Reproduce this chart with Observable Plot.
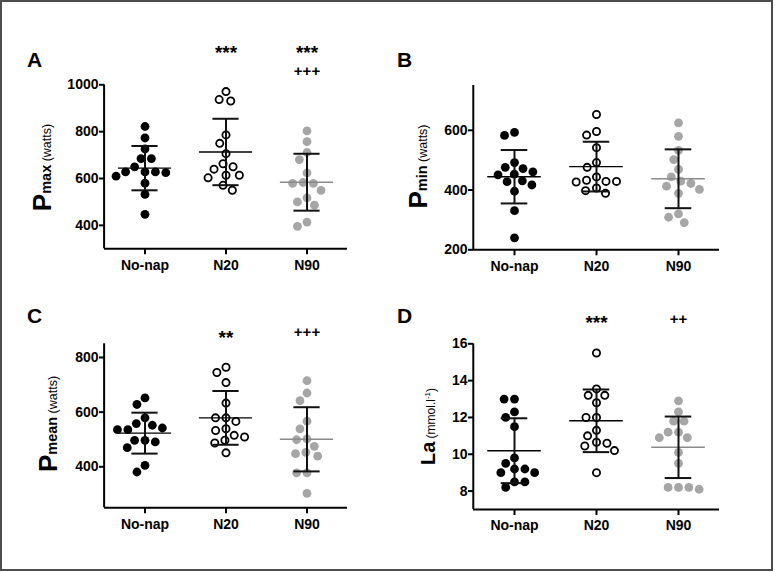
<!DOCTYPE html>
<html>
<head>
<meta charset="utf-8">
<script src="https://cdn.jsdelivr.net/npm/d3@7"></script>
<script src="https://cdn.jsdelivr.net/npm/@observablehq/plot@0.6"></script>
<style>
  html, body { margin: 0; padding: 0; background: #fff; }
  #root { position: relative; width: 775px; height: 572px; overflow: hidden; background: #fff; }
  #border { position: absolute; left: 0; top: 0; width: 773px; height: 571px; box-sizing: border-box; border: 2px solid #4d4d4d; }
  .panel { position: absolute; }
  #overlay { position: absolute; left: 0; top: 0; pointer-events: none; }
</style>
</head>
<body>
<div id="root"><div id="border"></div></div>
<script>
// ---------- data ----------
const groups = ["No-nap", "N20", "N90"];

// A: Pmax (watts)
const pmaxNoNap = [822, 773, 726, 685, 685, 650, 628, 628, 628, 625, 610, 580, 532, 447];
const pmaxN20   = [971, 937, 931, 786, 750, 706, 663, 650, 640, 614, 614, 603, 571, 550];
const pmaxN90   = [803, 757, 711, 681, 624, 583, 579, 579, 549, 517, 500, 486, 414, 396];
const pmaxTicks = [400, 600, 800, 1000];

// B: Pmin (watts)
const pminNoNap = [593, 583, 492, 476, 472, 461, 453, 451, 431, 428, 417, 396, 331, 240];
const pminN20   = [653, 596, 584, 542, 492, 476, 444, 433, 429, 429, 427, 407, 398, 389];
const pminN90   = [625, 580, 533, 502, 469, 444, 430, 422, 413, 402, 389, 320, 309, 291];
const pminTicks = [200, 400, 600];

// C: Pmean (watts)
const pmeanNoNap = [652, 628, 579, 558, 552, 542, 536, 536, 497, 497, 491, 470, 405, 381];
const pmeanN20   = [764, 745, 708, 633, 579, 579, 566, 539, 533, 515, 509, 497, 487, 451];
const pmeanN90   = [715, 670, 642, 567, 539, 502, 499, 475, 453, 448, 439, 378, 378, 303];
const pmeanTicks = [400, 600, 800];

// D: La (mmol.l-1)
const laNoNap = [13.0, 13.0, 12.3, 12.0, 11.5, 9.8, 9.5, 9.2, 9.2, 9.0, 9.0, 8.5, 8.5, 8.2];
const laN20   = [15.5, 13.55, 13.2, 13.2, 12.8, 12.0, 12.0, 11.3, 11.0, 10.65, 10.6, 10.45, 10.2, 9.0];
const laN90   = [12.9, 12.3, 11.8, 11.8, 11.2, 11.2, 10.9, 10.9, 10.1, 9.5, 8.2, 8.2, 8.2, 8.1];
const laTicks = [8, 10, 12, 14, 16];

// significance marks
const starsA = [{group: "N20", label: "***"}, {group: "N90", label: "***"}];
const plusA  = [{group: "N90", label: "+++"}];
const starsC = [{group: "N20", label: "**"}];
const plusC  = [{group: "N90", label: "+++"}];
const starsD = [{group: "N20", label: "***"}];
const plusD  = [{group: "N90", label: "++"}];

// ---------- styles ----------
const FONT = '"Liberation Sans", Arial, Helvetica, sans-serif';
const BLACK = "#000";
const GRAY = "#a6a6a6";
const GRAY_LINE = "#8a8a8a";

const panels = [
  {letter: "A", series: [pmaxNoNap, pmaxN20, pmaxN90], domain: [300, 1000], ticks: pmaxTicks,
   box: {left: 0, top: 0, width: 385, height: 285}, m: {l: 102.5, r: 37, t: 84.3, b: 36.7},
   stars: starsA, starsDy: -26.3, plus: plusA, plusDy: -8.7,
   letterPos: [27, 67], label: {x: 51, y: 167.5, sub: "max", unit: " (watts)"}},
  {letter: "B", series: [pminNoNap, pminN20, pminN90], domain: [200, 750], ticks: pminTicks,
   box: {left: 385, top: 0, width: 385, height: 285}, m: {l: 87.7, r: 50, t: 85, b: 35.7},
   stars: [], starsDy: 0, plus: [], plusDy: 0,
   letterPos: [397, 67], label: {x: 427, y: 166.5, sub: "min", unit: " (watts)"}},
  {letter: "C", series: [pmeanNoNap, pmeanN20, pmeanN90], domain: [250, 850], ticks: pmeanTicks,
   box: {left: 0, top: 285, width: 385, height: 287}, m: {l: 102.7, r: 37, t: 58.3, b: 64.7},
   stars: starsC, starsDy: 0, plus: plusC, plusDy: -7.3,
   letterPos: [27, 323], label: {x: 57, y: 424, sub: "mean", unit: " (watts)"}},
  {letter: "D", series: [laNoNap, laN20, laN90], domain: [7, 16], ticks: laTicks,
   box: {left: 385, top: 285, width: 385, height: 287}, m: {l: 87.7, r: 50, t: 58.3, b: 63},
   stars: starsD, starsDy: -15, plus: plusD, plusDy: -19.7,
   letterPos: [397, 323], label: {x: 435, y: 426.5, la: true}}
];

const root = document.getElementById("root");

for (const p of panels) {
  const rows = p.series.flatMap((vals, i) => vals.map(v => ({group: groups[i], value: v})));
  const stats = p.series.map((vals, i) => {
    const mu = d3.mean(vals), sd = d3.deviation(vals);
    return {group: groups[i], mean: mu, lo: mu - sd, hi: mu + sd};
  });
  const facetW = (p.box.width - p.m.l - p.m.r) / groups.length;
  const meanInset = (facetW - 54) / 2;
  const capInset = (facetW - 27) / 2;

  const plot = Plot.plot({
    width: p.box.width,
    height: p.box.height,
    marginLeft: p.m.l, marginRight: p.m.r, marginTop: p.m.t, marginBottom: p.m.b,
    style: {fontFamily: FONT, fontSize: "14px", fontWeight: "bold", color: BLACK, background: "transparent", overflow: "visible"},
    fx: {domain: groups, padding: 0, label: null},
    y: {domain: p.domain, label: null},
    marks: [
      // x axis line (repeated across the three touching facets)
      Plot.ruleY([p.domain[0]], {stroke: BLACK, strokeWidth: 2}),
      // y axis line, drawn at the left edge of the first facet
      Plot.ruleX([{group: groups[0]}], {fx: "group", x: null, y1: () => p.domain[0], y2: () => p.domain[1], dx: -facetW / 2, stroke: BLACK, strokeWidth: 2}),
      Plot.axisY({ticks: p.ticks, tickFormat: d3.format("d"), tickSize: 5, tickPadding: 1, strokeWidth: 2, label: null, fontSize: 14, fontWeight: "bold"}),
      Plot.axisFx({anchor: "bottom", tickSize: 6, tickPadding: 5, strokeWidth: 2, label: null, fontSize: 14, fontWeight: "bold"}),
      Plot.dot(rows.filter(d => d.group === "No-nap"),
        Plot.dodgeX({anchor: "middle", padding: 1.6}, {fx: "group", y: "value", r: 4.4, fill: BLACK, stroke: "none"})),
      Plot.dot(rows.filter(d => d.group === "N20"),
        Plot.dodgeX({anchor: "middle", padding: 3.3}, {fx: "group", y: "value", r: 3.6, fill: "#fff", stroke: BLACK, strokeWidth: 1.8})),
      Plot.dot(rows.filter(d => d.group === "N90"),
        Plot.dodgeX({anchor: "middle", padding: 1.6}, {fx: "group", y: "value", r: 4.4, fill: GRAY, stroke: "none"})),
      Plot.ruleY(stats, {fx: "group", y: "mean", stroke: d => d.group === "N90" ? GRAY_LINE : BLACK, strokeWidth: 1.4, insetLeft: meanInset, insetRight: meanInset}),
      Plot.ruleX(stats, {fx: "group", x: null, y1: "lo", y2: "hi", stroke: "#111", strokeWidth: 2}),
      Plot.ruleY(stats, {fx: "group", y: "hi", stroke: "#111", strokeWidth: 2, insetLeft: capInset, insetRight: capInset}),
      Plot.ruleY(stats, {fx: "group", y: "lo", stroke: "#111", strokeWidth: 2, insetLeft: capInset, insetRight: capInset}),
      Plot.text(p.stars, {fx: "group", text: "label", frameAnchor: "top", lineAnchor: "bottom", dy: p.starsDy, fontSize: 19, fontWeight: "bold", fill: BLACK}),
      Plot.text(p.plus, {fx: "group", text: "label", frameAnchor: "top", lineAnchor: "bottom", dy: p.plusDy, fontSize: 15, fontWeight: "bold", fill: BLACK})
    ]
  });
  const wrap = document.createElement("div");
  wrap.className = "panel";
  wrap.style.left = p.box.left + "px";
  wrap.style.top = p.box.top + "px";
  wrap.appendChild(plot);
  root.appendChild(wrap);
}

// ---------- overlay: panel letters and y-axis titles ----------
const overlay = d3.select(root).append("svg")
  .attr("id", "overlay").attr("width", 775).attr("height", 572)
  .style("font-family", FONT);

for (const p of panels) {
  overlay.append("text")
    .attr("x", p.letterPos[0]).attr("y", p.letterPos[1])
    .attr("font-size", 21).attr("font-weight", "bold").attr("fill", BLACK)
    .text(p.letter);

  const t = overlay.append("text")
    .attr("transform", `translate(${p.label.x},${p.label.y}) rotate(-90)`)
    .attr("text-anchor", "middle").attr("fill", BLACK);
  if (p.label.la) {
    t.append("tspan").attr("font-size", 20).attr("font-weight", "bold").text("La");
    t.append("tspan").attr("font-size", 12).attr("font-weight", "normal").text(" (mmol.l");
    t.append("tspan").attr("font-size", 8).attr("font-weight", "normal").attr("dy", -5).text("-1");
    t.append("tspan").attr("font-size", 12).attr("font-weight", "normal").attr("dy", 5).text(")");
  } else {
    t.append("tspan").attr("font-size", 26).attr("font-weight", "bold").text("P");
    t.append("tspan").attr("font-size", 14.5).attr("font-weight", "bold").text(p.label.sub);
    t.append("tspan").attr("font-size", 12.5).attr("font-weight", "normal").text(p.label.unit);
  }
}
</script>
</body>
</html>
